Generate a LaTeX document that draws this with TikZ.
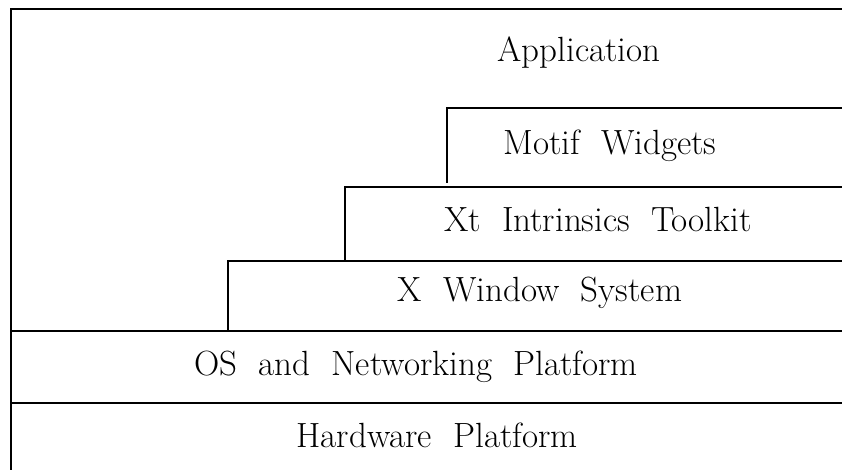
\documentclass[tikz,border=0pt]{standalone}
\usepackage{tikz}
\usetikzlibrary{positioning, calc}
\tikzstyle{layer} = [anchor=base, inner sep=0pt, font=\fontsize{35}{42}\selectfont]
\tikzstyle{rule} = [line width=1.6pt, line cap=rect]

\begin{document}
\begin{tikzpicture}[x=1pt, y=-1pt]
\useasboundingbox (0,0) rectangle (842,470);
% corner points of the stacked layers
\coordinate (topL) at (11,9);
\coordinate (botL) at (11,470);
\coordinate (motifL) at (447,108);
\coordinate (xtL) at (345,187);
\coordinate (xwinL) at (228,261);
\coordinate (osL) at (11,331);
\coordinate (hwL) at (11,403);

\node (app) [layer] at (579,62) {Application};
\node (motif) [layer] at (610,155) {Motif\ \ Widgets};
\node (xt) [layer] at (598,232) {Xt\ \ Intrinsics\ \ Toolkit};
\node (xwin) [layer] at (540,301) {X\ \ Window\ \ System};
\node (os) [layer] at (416,375) {OS\ \ and\ \ Networking\ \ Platform};
\node (hw) [layer] at (437,447) {Hardware\ \ Platform};

\draw [rule] (botL) -- (topL) -- (topL -| 842,0);
\draw [rule] (motifL) -- (motifL -| 842,0);
\draw [rule] (motifL) -- ++(0,74);
\draw [rule] (xtL) -- (xtL -| 842,0);
\draw [rule] (xtL) -- (xtL |- xwinL);
\draw [rule] (xwinL) -- (xwinL -| 842,0);
\draw [rule] (xwinL) -- (xwinL |- osL);
\draw [rule] (osL) -- (osL -| 842,0);
\draw [rule] (hwL) -- (hwL -| 842,0);
\end{tikzpicture}
\end{document}
